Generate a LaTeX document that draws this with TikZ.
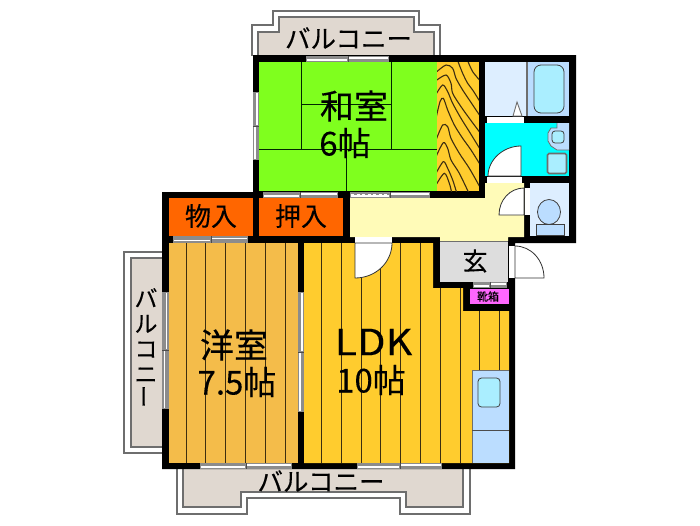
\documentclass[tikz,border=0pt]{standalone}
\usepackage{fontspec}
\newfontfamily\jp[FakeBold=0.25]{Noto Sans CJK JP}
\definecolor{tatami}{HTML}{7FFF1E}
\definecolor{wood}{HTML}{FFCC2E}
\definecolor{woodline}{HTML}{3D2E10}
\definecolor{closet}{HTML}{FF6600}
\definecolor{yoshitsu}{HTML}{F4BC4A}
\definecolor{hallc}{HTML}{FFFBB8}
\definecolor{entry}{HTML}{DDDDDD}
\definecolor{pinkbox}{HTML}{FF66FF}
\definecolor{balc}{HTML}{E0D8D0}
\definecolor{palebl}{HTML}{DDEEFF}
\definecolor{midbl}{HTML}{BBDDFF}
\definecolor{aqua}{HTML}{AAEEFF}
\definecolor{wetroom}{HTML}{00FFFF}
\definecolor{linegr}{HTML}{6E6E6E}
\definecolor{wingr}{HTML}{8C8C8C}
\tikzset{
  balout/.style={draw=linegr,line width=1.1pt,fill=white},
  balin/.style={draw=linegr,line width=1.4pt,fill=balc},
  roomline/.style={draw=black!85!green,line width=0.7pt},
  plank/.style={draw=woodline,line width=0.8pt},
  grain/.style={draw=woodline,line width=1.1pt,line cap=round},
  doorleaf/.style={draw=black!80,line width=0.8pt,fill=white},
  fixture/.style={draw=black!75,line width=0.8pt},
  label/.style={inner sep=0pt,text=black},
}
\newcommand\hwin[4]{%
  \fill[wingr] (#1,#4) rectangle (#3,#4+6.5);
  \fill[white] (#1+1,#4+3.4) rectangle (#2-1,#4+5);
  \fill[white] (#2+1,#4+1.4) rectangle (#3-1,#4+3);
  \fill[black!70] (#2-0.4,#4) rectangle (#2+0.4,#4+6.5);}
\newcommand\vwin[4]{%
  \fill[wingr] (#4,#1) rectangle (#4+6.5,#3);
  \fill[white] (#4+3.4,#1+1) rectangle (#4+5,#2-1);
  \fill[white] (#4+1.4,#2+1) rectangle (#4+3,#3-1);
  \fill[black!70] (#4,#2-0.4) rectangle (#4+6.5,#2+0.4);}
\begin{document}
\begin{tikzpicture}[x=1pt,y=-1pt]
\useasboundingbox (0,0) rectangle (700,525);
\fill[white] (0,0) rectangle (700,525);
% balconies
\draw[balout] (252,56) -- (252,25) -- (273,25) -- (273,11) -- (419,11) -- (419,25) -- (440,25) -- (440,56);
\draw[balin] (258,56) -- (258,32) -- (279,32) -- (279,17) -- (414,17) -- (414,32) -- (434,32) -- (434,56);
\draw[balout] (163,252) -- (124,252) -- (124,453) -- (163,453);
\draw[balin] (163,258) -- (131,258) -- (131,447) -- (163,447);
\draw[balout] (177,468) -- (177,514) -- (247,514) -- (247,498) -- (400,498) -- (400,514) -- (470,514) -- (470,468);
\draw[balin] (183,468) -- (183,507) -- (241,507) -- (241,492) -- (406,492) -- (406,507) -- (463,507) -- (463,468);
% wall mass
\fill[black] (253,55) -- (576,55) -- (576,243) -- (515,243) -- (515,469) -- (162,469) -- (162,192) -- (253,192) -- cycle;
% rooms
\fill[tatami] (259,62) rectangle (437,191);
\fill[wood] (437,62) rectangle (479,191);
\fill[palebl] (485,62) rectangle (527,116);
\fill[midbl] (527,62) rectangle (569,116);
\fill[wetroom] (485,123) rectangle (569,176);
\fill[palebl] (530,183) rectangle (569,236);
\fill[hallc] (350,198) -- (485,198) -- (485,183) -- (524,183) -- (524,237) -- (508,237) -- (508,241) -- (440,241) -- (440,237) -- (350,237) -- cycle;
\fill[entry] (440,241) rectangle (508,282);
\draw[linegr,line width=0.9pt] (440,241) -- (508,241);
\fill[pinkbox] (470,289) rectangle (509,304);
\fill[closet] (169,198) rectangle (253,236);
\fill[closet] (259,198) rectangle (343,236);
\fill[yoshitsu] (169,243) rectangle (298,463);
\fill[wood] (304,243) -- (433,243) -- (433,288) -- (463,288) -- (463,311) -- (509,311) -- (509,463) -- (304,463) -- cycle;
% tatami lines
\draw[roomline] (301,62) -- (301,149) (391,62) -- (391,149) (301,104) -- (391,104) (259,149) -- (437,149) (346,149) -- (346,191);
% wood grain of the closet
\begin{scope}
\clip (437,62) rectangle (479,191);
\begin{scope}[shift={(436,60)},x=0.3333pt,y=-0.3333pt]
\draw[grain] plot[smooth] coordinates {(95,2) (110,35) (135,65)};
\draw[grain] plot[smooth] coordinates {(65,2) (80,40) (95,70) (110,90) (135,130)};
\draw[grain] plot[smooth] coordinates {(0,37) (30,15) (50,25) (60,55) (80,90) (100,120) (135,172)};
\draw[grain] plot[smooth] coordinates {(0,62) (30,45) (45,70) (50,100) (75,140) (100,175) (135,222)};
\draw[grain] plot[smooth] coordinates {(0,103) (20,75) (35,95) (50,130) (75,175) (100,215) (135,272)};
\draw[grain] plot[smooth] coordinates {(0,175) (12,125) (22,115) (35,150) (55,195) (80,235) (105,270) (135,318)};
\draw[grain] plot[smooth] coordinates {(0,240) (20,195) (35,200) (45,235) (70,280) (100,325) (130,378)};
\draw[grain] plot[smooth] coordinates {(0,290) (22,248) (35,265) (45,300) (70,340) (98,398)};
\draw[grain] plot[smooth] coordinates {(0,340) (22,305) (35,325) (50,360) (62,398)};
\draw[grain] plot[smooth] coordinates {(0,375) (25,340) (40,370) (47,398)};
\end{scope}
\end{scope}
% planks
\foreach \x in {186,205.5,225,245,265,285} \draw[plank] (\x,243) -- (\x,463);
\begin{scope}
\clip (304,243) -- (433,243) -- (433,288) -- (463,288) -- (463,311) -- (509,311) -- (509,463) -- (304,463) -- cycle;
\foreach \x in {321.5,341,361,380,400,420,440,460,479,499} \draw[plank] (\x,243) -- (\x,463);
\end{scope}
% kitchen
\fill[midbl] (472,370) rectangle (509,463);
\draw[linegr,line width=0.7pt] (472,370) -- (472,463) (472,370) -- (509,370);
\draw[black!70,line width=0.8pt] (472,430) -- (509,430);
\draw[fixture,fill=aqua,rounded corners=3.5pt] (478,378) rectangle (500,407);
% bath and wash room
\draw[linegr,line width=1.6pt] (527,62) -- (527,116);
\draw[fixture,fill=aqua,rounded corners=7pt] (534,65) rectangle (564,113);
\draw[linegr,fill=white,line width=0.9pt] (513,116) -- (517,102) -- (522,116) -- cycle;
\fill[white] (487,117) rectangle (524,122.5);
\fill[midbl] (557,123) -- (569,123) -- (569,150) -- (557,150) -- (551,146) -- (548,141) -- (548,133) -- (551,128) -- (557,128) -- cycle;
\draw[linegr,line width=0.8pt] (557,123) -- (557,128) -- (551,128) -- (548,133) -- (548,141) -- (551,146) -- (557,150) -- (569,150);
\draw[fixture,fill=aqua,rounded corners=3pt] (552,131) rectangle (564,143);
\draw[linegr,fill=aqua,line width=1.6pt,rounded corners=1.5pt] (547.5,153.5) rectangle (566.5,173.5);
% toilet
\draw[fixture,fill=midbl] (549,212) ellipse (11.5 and 12.5);
\draw[fixture,fill=midbl] (536,224) rectangle (564,235);
% doors
\fill[white] (487,177) rectangle (522,183);
\draw[doorleaf] (521,176) -- (521,146) .. controls (503,146) and (488,160) .. (488,176) -- cycle;
\fill[white] (524.5,188) rectangle (530,215);
\draw[doorleaf] (524,215) -- (499,215) .. controls (499,200) and (510,188) .. (524,188) -- cycle;
\fill[white] (355,237) rectangle (392,243);
\draw[doorleaf] (355,243) -- (355,278) .. controls (376,278) and (392,262) .. (392,243) -- cycle;
\fill[white] (509,246) rectangle (515,278);
\draw[doorleaf] (515,278) -- (544,278) .. controls (544,260) and (531,246) .. (515,246) -- cycle;
% windows
\hwin{306}{348}{389}{55.5}
\vwin{92}{126}{160}{252.8}
\hwin{263}{300}{338}{191.5}
\hwin{350}{390}{430}{191.5}
\draw[white,line width=1.3pt,dash pattern=on 3pt off 2.5pt] (351,195) -- (389,195);
\hwin{173}{211}{248}{236.2}
\vwin{292}{350}{409}{162.3}
\vwin{292}{352}{412}{297.8}
\hwin{200}{246}{292}{462.8}
\hwin{357}{400}{442}{462.8}
\hwin{473}{490}{507}{281.8}
% labels
\node[label] (balcT) at (348.5,38) {\jp\fontsize{25.5}{25.5}\selectfont バルコニー};
\node[label] (balcB) at (321,481) {\jp\fontsize{25.5}{25.5}\selectfont バルコニー};
\node[label,align=center,font=\jp\fontsize{23}{25.2}\selectfont] (balcL) at (146,348) {バ\\ル\\コ\\ニ\\\hspace*{3pt}\rotatebox{90}{ー}};
\node[label] (washitsu) at (354,106) {\jp\fontsize{34}{34}\selectfont 和室};
\node[label] (six) at (345,143) {\jp\fontsize{33}{33}\selectfont 6帖};
\node[label] (mono) at (211,216) {\jp\fontsize{26}{26}\selectfont 物入};
\node[label] (oshi) at (301,216) {\jp\fontsize{26}{26}\selectfont 押入};
\node[label] (gen) at (475,261) {\jp\fontsize{25}{25}\selectfont 玄};
\node[label] (kutsu) at (488,296.5) {\jp\fontsize{11}{11}\selectfont 靴箱};
\node[label] (yoshi) at (234,345) {\jp\fontsize{34}{34}\selectfont 洋室};
\node[label] (ysize) at (237,382) {\jp\fontsize{33}{33}\selectfont 7.5帖};
\node[label] (ldk) at (373.5,342) {\jp\fontsize{36}{36}\selectfont\scalebox{1.15}[1]{LDK}};
\node[label] (lsize) at (371,380) {\jp\fontsize{33}{33}\selectfont 10帖};
\end{tikzpicture}
\end{document}
